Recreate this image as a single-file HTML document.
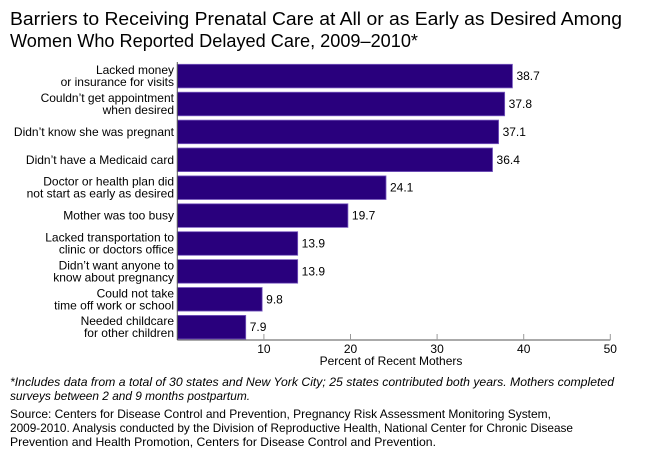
<!DOCTYPE html>
<html><head><meta charset="utf-8">
<style>
html,body{margin:0;padding:0;background:#fff;}
svg{display:block;font-family:"Liberation Sans",Arial,sans-serif;}
</style></head>
<body>
<svg id="chart" width="652" height="469" viewBox="0 0 652 469">
<text x="10" y="25" font-size="18.5" fill="#000" textLength="612" lengthAdjust="spacingAndGlyphs">Barriers to Receiving Prenatal Care at All or as Early as Desired Among</text>
<text x="10" y="47" font-size="18.5" fill="#000" textLength="408" lengthAdjust="spacingAndGlyphs">Women Who Reported Delayed Care, 2009–2010*</text>
<g id="bars"></g>
<g id="axis"></g>
<text x="10" y="386" font-size="12" font-style="italic" textLength="604" lengthAdjust="spacingAndGlyphs">*Includes data from a total of 30 states and New York City; 25 states contributed both years. Mothers completed</text>
<text x="10" y="400" font-size="12" font-style="italic" textLength="240" lengthAdjust="spacingAndGlyphs">surveys between 2 and 9 months postpartum.</text>
<text x="10" y="418" font-size="12" textLength="541" lengthAdjust="spacingAndGlyphs">Source: Centers for Disease Control and Prevention, Pregnancy Risk Assessment Monitoring System,</text>
<text x="10" y="432" font-size="12" textLength="563" lengthAdjust="spacingAndGlyphs">2009-2010. Analysis conducted by the Division of Reproductive Health, National Center for Chronic Disease</text>
<text x="10" y="446" font-size="12" textLength="426" lengthAdjust="spacingAndGlyphs">Prevention and Health Promotion, Centers for Disease Control and Prevention.</text>
</svg>
<script>
const categories = [
  ["Lacked money","or insurance for visits"],
  ["Couldn’t get appointment","when desired"],
  ["Didn’t know she was pregnant"],
  ["Didn’t have a Medicaid card"],
  ["Doctor or health plan did","not start as early as desired"],
  ["Mother was too busy"],
  ["Lacked transportation to","clinic or doctors office"],
  ["Didn’t want anyone to","know about pregnancy"],
  ["Could not take","time off work or school"],
  ["Needed childcare","for other children"]
];
const values = [38.7, 37.8, 37.1, 36.4, 24.1, 19.7, 13.9, 13.9, 9.8, 7.9];
const valueLabels = ["38.7","37.8","37.1","36.4","24.1","19.7","13.9","13.9","9.8","7.9"];
const ticks = [10, 20, 30, 40, 50];
const tickLabels = ["10","20","30","40","50"];

const NS = "http://www.w3.org/2000/svg";
const X0 = 177.3, PX = 8.66, Y0 = 64.3, STEP = 27.9, BH = 23.6, AXIS_Y = 340;
const x = v => X0 + v * PX;
const y = i => Y0 + i * STEP;
function mk(tag, attrs, parent){ const e = document.createElementNS(NS, tag); for (const k in attrs) e.setAttribute(k, attrs[k]); parent.appendChild(e); return e; }
const bars = document.getElementById('bars');
const axis = document.getElementById('axis');

values.forEach((v, i) => {
  const r = mk('rect', {x: X0, y: y(i), width: x(v) - X0, height: BH, fill: '#29007d', stroke: '#7a5cc0', 'stroke-width': 0.8}, bars);
  
  
  const t = mk('text', {x: x(v) + 4, y: y(i) + BH / 2 + 4, 'font-size': 12, fill: '#000'}, bars);
  t.textContent = valueLabels[i];
  
  
  const lines = categories[i];
  const cy = y(i) + BH / 2;
  lines.forEach((ln, j) => {
    const ly = cy + 4 + (j - (lines.length - 1) / 2) * 12;
    const c = mk('text', {x: 174, y: ly, 'font-size': 12, 'text-anchor': 'end', fill: '#000'}, bars);
    c.textContent = ln;
    
    
  });
});

const yl = mk('line', {x1: X0, y1: 62, x2: X0, y2: AXIS_Y, stroke: '#555', 'stroke-width': 1}, axis);


const xl = mk('line', {x1: X0, y1: AXIS_Y, x2: x(50), y2: AXIS_Y, stroke: '#555', 'stroke-width': 1}, axis);


ticks.forEach((tv, i) => {
  const tk = mk('line', {x1: x(tv), y1: AXIS_Y - 6, x2: x(tv), y2: AXIS_Y, stroke: '#999', 'stroke-width': 1}, axis);
  
  
  const tl = mk('text', {x: x(tv), y: AXIS_Y + 13, 'font-size': 12, 'text-anchor': 'middle', fill: '#000'}, axis);
  tl.textContent = tickLabels[i];
  
  
});
const at = mk('text', {x: 391, y: AXIS_Y + 25, 'font-size': 12, 'text-anchor': 'middle', fill: '#000'}, axis);
at.textContent = 'Percent of Recent Mothers';


</script>
</body></html>
